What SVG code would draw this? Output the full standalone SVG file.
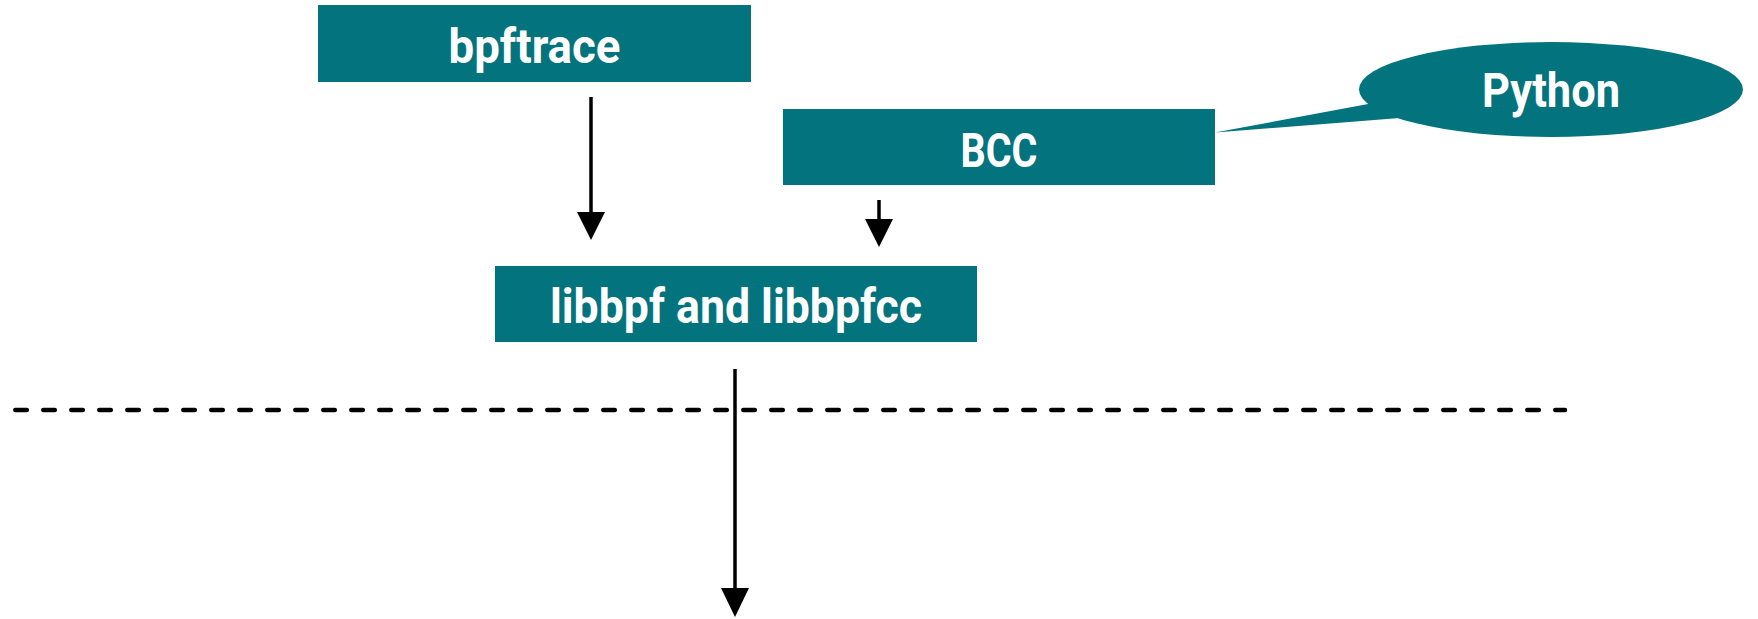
<svg xmlns="http://www.w3.org/2000/svg" width="1758" height="619" viewBox="0 0 1758 619">
<defs>
<style>
.box{fill:#03737d;}
.lbl{font-family:Roboto,"Liberation Sans",sans-serif;font-weight:700;font-size:48px;fill:#ffffff;text-anchor:middle;}
.conn{stroke:#000;stroke-width:3.5;fill:none;}
.head{fill:#000;}
</style>
</defs>
<rect width="1758" height="619" fill="#ffffff"/>
<g id="connectors">
<line class="conn" x1="591" y1="97" x2="591" y2="214"/>
<polygon class="head" points="577,212 605,212 591,240"/>
<line class="conn" x1="879" y1="200" x2="879" y2="221"/>
<polygon class="head" points="865,219 893,219 879,247"/>
<line x1="15.3" y1="410" x2="1565" y2="410" stroke="#000" stroke-width="4.5" stroke-linecap="round" stroke-dasharray="11.5 16.5"/>
<line class="conn" x1="735" y1="369" x2="735" y2="590"/>
<polygon class="head" points="721,588 749,588 735,617"/>
</g>
<g id="bpftrace">
<rect class="box" x="318" y="5" width="433" height="77"/>
<text class="lbl" x="534.5" y="63" textLength="172" lengthAdjust="spacingAndGlyphs">bpftrace</text>
</g>
<g id="bcc">
<rect class="box" x="783" y="109" width="432" height="76"/>
<text class="lbl" x="999" y="167" textLength="77" lengthAdjust="spacingAndGlyphs">BCC</text>
</g>
<g id="python">
<polygon class="box" points="1215,132.5 1395,99 1425,116"/>
<ellipse class="box" cx="1551" cy="89.5" rx="192" ry="47.5"/>
<text class="lbl" x="1551" y="107" textLength="138" lengthAdjust="spacingAndGlyphs">Python</text>
</g>
<g id="libbpf">
<rect class="box" x="495" y="266" width="482" height="76"/>
<text class="lbl" x="736" y="323" textLength="372" lengthAdjust="spacingAndGlyphs">libbpf and libbpfcc</text>
</g>
</svg>
